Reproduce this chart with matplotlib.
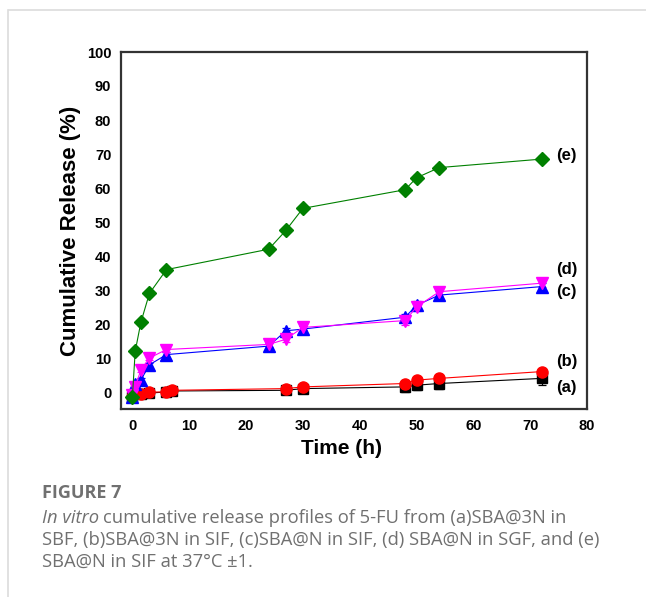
import matplotlib.pyplot as plt
from matplotlib.lines import Line2D

# sampling times (h)
t = [0, 0.5, 1.5, 3, 6, 24, 27, 30, 48, 50, 54, 72]
t_low = [0, 1.5, 3, 6, 7, 27, 30, 48, 50, 54, 72]

# (a) SBA@3N in SBF, (b) SBA@3N in SIF
rel_a = [-1.5, -0.5, -0.3, 0.0, 0.3, 0.5, 1.0, 1.5, 2.0, 2.5, 4.0]
err_a = [0.5, 0.5, 0.5, 0.6, 0.8, 1.0, 1.2, 1.5, 1.5, 1.5, 2.0]
rel_b = [-1.5, -0.5, 0.0, 0.0, 0.5, 1.0, 1.5, 2.5, 3.5, 4.0, 6.0]
err_b = [0.3, 0.3, 0.4, 0.4, 0.5, 0.5, 0.6, 0.6, 0.6, 0.6, 0.6]

# (c) SBA@N in SIF, (d) SBA@N in SGF, (e) SBA@N in SIF
rel_c = [-1.5, 2.5, 3.5, 8.0, 11.0, 13.5, 18.0, 18.5, 22.0, 25.5, 28.5, 31.0]
err_c = [0.3, 0.5, 0.5, 0.6, 0.8, 0.8, 0.8, 0.8, 1.0, 1.2, 1.2, 1.2]
rel_d = [-1.0, 1.5, 6.5, 10.0, 12.5, 14.0, 15.5, 19.0, 21.0, 25.0, 29.5, 32.0]
err_d = [0.3, 0.5, 0.5, 0.6, 0.8, 0.8, 0.8, 0.8, 1.2, 1.2, 1.2, 1.2]
rel_e = [-1.5, 12.0, 20.5, 29.0, 36.0, 42.0, 47.5, 54.0, 59.5, 63.0, 66.0, 68.5]
err_e = [0.3, 0.5, 0.5, 0.5, 0.5, 0.5, 0.5, 0.5, 0.8, 0.8, 0.8, 0.8]

curve_labels = ['(e)', '(d)', '(c)', '(b)', '(a)']
label_y = [69.5, 36, 29.5, 9, 1.2]

fig = plt.figure(figsize=(6.46, 5.97), dpi=100)

# light page frame
fig.add_artist(Line2D([9 / 646, 1], [1 - 10 / 597, 1 - 10 / 597], color='#dcdcdc', lw=1.2))
fig.add_artist(Line2D([8 / 646, 8 / 646], [0, 1 - 10 / 597], color='#dcdcdc', lw=1.2))

ax = fig.add_axes([121 / 646, 1 - 409 / 597, (587 - 121) / 646, (409 - 52) / 597])

series = [
    (t_low, rel_a, err_a, 'black', 's', 7),
    (t_low, rel_b, err_b, 'red', 'o', 8),
    (t, rel_c, err_c, 'blue', '^', 8),
    (t, rel_d, err_d, 'magenta', 'v', 8),
    (t, rel_e, err_e, 'green', 'D', 7),
]
for x, y, e, c, m, ms in series:
    ax.errorbar(x, y, yerr=e, color=c, marker=m, ms=ms, lw=0.8,
                elinewidth=0.9, capsize=3, capthick=0.9, ecolor=c)

for lab, y in zip(curve_labels, label_y):
    ax.text(74.5, y, lab, fontsize=12, fontweight='bold', family='Liberation Sans',
            va='center', ha='left')

ax.set_xlim(-2, 80)
ax.set_ylim(-5, 100)
ax.set_xticks(range(0, 81, 10))
ax.set_yticks(range(0, 101, 10))
ax.tick_params(length=0, pad=7)
for lab in ax.get_xticklabels() + ax.get_yticklabels():
    lab.set_fontfamily('Liberation Sans')
    lab.set_fontweight('bold')
    lab.set_fontsize(10.5)
ax.set_xlabel('Time (h)', fontsize=15, fontweight='bold', family='Liberation Sans', labelpad=3)
ax.xaxis.set_label_coords(0.474, -0.085)
ax.set_ylabel('Cumulative Release (%)', fontsize=16, fontweight='bold', family='Liberation Sans', labelpad=4)
for s in ax.spines.values():
    s.set_color('#333333')
    s.set_linewidth(1.6)

# caption
cap = dict(color='#707070', family='Open Sans', va='center')
fig.text(42 / 646, 1 - 493 / 597, 'FIGURE 7', fontsize=13, fontweight='bold', **cap)
t1 = fig.text(42 / 646, 1 - 518 / 597, 'In vitro', fontsize=13.2, style='italic', **cap)
fig.canvas.draw()
bb = t1.get_window_extent()
fig.text((bb.x1 + 4) / 646, 1 - 518 / 597, 'cumulative release profiles of 5-FU from (a)SBA@3N in',
         fontsize=13.2, **cap)
fig.text(42 / 646, 1 - 540 / 597,
         'SBF, (b)SBA@3N in SIF, (c)SBA@N in SIF, (d) SBA@N in SGF, and (e)',
         fontsize=13.2, **cap)
fig.text(42 / 646, 1 - 562 / 597, 'SBA@N in SIF at 37°C ±1.', fontsize=13.2, **cap)

fig.savefig('out.png', dpi=100)
